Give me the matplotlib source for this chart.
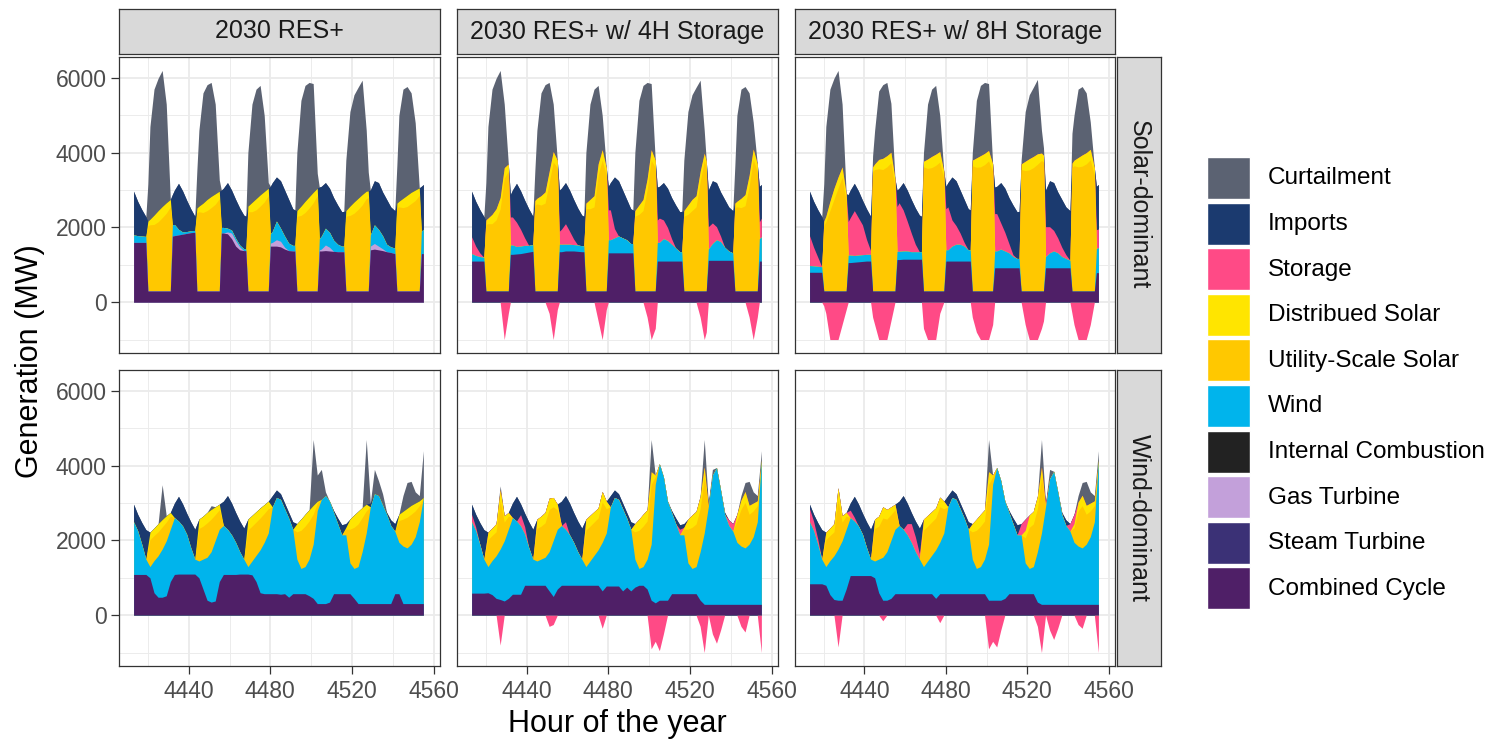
import numpy as np
import matplotlib.pyplot as plt
from matplotlib.patches import Rectangle

plt.rcParams['font.family'] = ['Liberation Sans', 'DejaVu Sans']

scenarios = ["2030 RES+", "2030 RES+ w/ 4H Storage", "2030 RES+ w/ 8H Storage"]
regimes = ["Solar-dominant", "Wind-dominant"]

categories = ["Curtailment", "Imports", "Storage", "Distribued Solar",
              "Utility-Scale Solar", "Wind", "Internal Combustion",
              "Gas Turbine", "Steam Turbine", "Combined Cycle"]
colors = ["#5b6272", "#1b3a6f", "#ff4a86", "#ffe500", "#ffc800",
          "#00b4ec", "#222222", "#c3a0da", "#3b3176", "#4f1f67"]

# ---------------- solar-dominant week (MW) ----------------
# every 2 hours, plus the hour at each sunrise / sunset switch
sd_hours = [4413, 4415, 4417, 4419, 4420, 4421, 4423, 4425, 4427, 4429, 4431,
            4432, 4433, 4435, 4437, 4439, 4441, 4443, 4444, 4445, 4447, 4449, 4451, 4453, 4455,
            4456, 4457, 4459, 4461, 4463, 4465, 4467, 4468, 4469, 4471, 4473, 4475, 4477, 4479,
            4480, 4481, 4483, 4485, 4487, 4489, 4491, 4492, 4493, 4495, 4497, 4499, 4501, 4503,
            4504, 4505, 4507, 4509, 4511, 4513, 4515, 4516, 4517, 4519, 4521, 4523, 4525, 4527,
            4528, 4529, 4531, 4533, 4535, 4537, 4539, 4541, 4542, 4543, 4545, 4547, 4549, 4551, 4553, 4554, 4555]

sd_dist = [0, 0, 0, 0, 120, 150, 250, 300, 300, 280, 200,
           0, 0, 0, 0, 0, 0, 0, 120, 150, 250, 300, 300, 280, 200,
           0, 0, 0, 0, 0, 0, 0, 0, 150, 250, 300, 300, 280, 200,
           0, 0, 0, 0, 0, 0, 0, 0, 150, 250, 300, 300, 280, 200,
           0, 0, 0, 0, 0, 0, 0, 0, 150, 250, 300, 300, 280, 200,
           180, 0, 0, 0, 0, 0, 0, 0, 120, 150, 250, 300, 300, 280, 200, 0, 0]

sd0_cc = [1600, 1600, 1600, 1600, 300, 300, 300, 300, 300, 300, 300,
          1770, 1780, 1800, 1820, 1840, 1860, 1870, 300, 300, 300, 300, 300, 300, 300,
          1850, 1850, 1830, 1700, 1500, 1400, 1380, 1380, 300, 300, 300, 300, 300, 300,
          1500, 1500, 1500, 1480, 1420, 1380, 1370, 1370, 300, 300, 300, 300, 300, 300,
          1370, 1370, 1380, 1370, 1360, 1350, 1350, 1350, 300, 300, 300, 300, 300, 300,
          300, 1400, 1420, 1400, 1380, 1350, 1330, 1300, 300, 300, 300, 300, 300, 300, 300, 1300, 1300]
sd0_gt = [0, 0, 0, 0, 0, 0, 0, 0, 0, 0, 0,
          0, 0, 0, 0, 0, 0, 0, 0, 0, 0, 0, 0, 0, 0,
          0, 0, 50, 150, 150, 80, 0, 0, 0, 0, 0, 0, 0, 0,
          80, 100, 170, 150, 50, 0, 0, 0, 0, 0, 0, 0, 0, 0,
          30, 50, 150, 100, 0, 0, 0, 0, 0, 0, 0, 0, 0, 0,
          0, 100, 150, 100, 50, 0, 0, 0, 0, 0, 0, 0, 0, 0, 0, 0, 0]
sd0_wind = [200, 180, 170, 160, 0, 0, 0, 0, 0, 0, 0,
            300, 300, 150, 60, 50, 50, 50, 0, 0, 0, 0, 0, 0, 0,
            150, 150, 100, 80, 60, 50, 50, 50, 0, 0, 0, 0, 0, 0,
            250, 300, 500, 350, 300, 200, 150, 150, 0, 0, 0, 0, 0, 0,
            300, 350, 450, 400, 300, 200, 150, 150, 0, 0, 0, 0, 0, 0,
            0, 300, 500, 450, 350, 200, 150, 150, 0, 0, 0, 0, 0, 0, 0, 600, 650]
sd0_util = [0, 0, 0, 0, 1750, 1770, 1780, 1850, 1960, 2080, 2250,
            0, 0, 0, 0, 0, 0, 0, 2100, 2120, 2100, 2150, 2230, 2320, 2470,
            0, 0, 0, 0, 0, 0, 0, 0, 2120, 2120, 2170, 2270, 2380, 2550,
            0, 0, 0, 0, 0, 0, 0, 0, 2000, 2020, 2100, 2220, 2360, 2550,
            0, 0, 0, 0, 0, 0, 0, 0, 2000, 2020, 2080, 2180, 2300, 2470,
            2500, 0, 0, 0, 0, 0, 0, 0, 2230, 2250, 2230, 2260, 2340, 2420, 2560, 0, 0]
sd0_imp = [1170, 920, 710, 530, 0, 0, 0, 0, 0, 0, 0,
           810, 920, 1230, 1100, 840, 590, 380, 0, 0, 0, 0, 0, 0, 0,
           1000, 1050, 1220, 1070, 1040, 990, 900, 870, 0, 0, 0, 0, 0, 0,
           1270, 1300, 1180, 1270, 1230, 1170, 980, 950, 0, 0, 0, 0, 0, 0,
           1380, 1330, 1220, 1180, 1140, 1050, 920, 930, 0, 0, 0, 0, 0, 0,
           0, 1200, 1180, 1250, 1170, 1200, 1070, 1000, 0, 0, 0, 0, 0, 0, 0, 1200, 1200]
sd0_curt = [0, 0, 0, 0, 1000, 2480, 3370, 3540, 3640, 2640, 0,
            0, 0, 0, 0, 0, 0, 0, 1000, 2030, 2950, 3070, 3050, 2400, 300,
            0, 0, 0, 0, 0, 0, 0, 0, 1430, 2630, 2930, 2930, 2040, 150,
            0, 0, 0, 0, 0, 0, 0, 0, 1550, 2830, 3100, 3060, 2910, 400,
            0, 0, 0, 0, 0, 0, 0, 0, 1350, 2530, 2870, 2970, 3060, 1630,
            500, 0, 0, 0, 0, 0, 0, 0, 1000, 2300, 2920, 2910, 2660, 1800, 0, 0, 0]

sd4_cc = [1100, 1100, 1100, 1100, 300, 300, 300, 300, 300, 300, 300,
          1280, 1280, 1290, 1300, 1320, 1340, 1360, 300, 300, 300, 300, 300, 300, 300,
          1350, 1350, 1370, 1370, 1370, 1360, 1350, 1350, 300, 300, 300, 300, 300, 300,
          1320, 1320, 1320, 1320, 1320, 1320, 1320, 1320, 300, 300, 300, 300, 300, 300,
          1100, 1100, 1100, 1100, 1100, 1100, 1100, 1100, 300, 300, 300, 300, 300, 300,
          300, 1120, 1120, 1120, 1120, 1120, 1120, 1120, 300, 300, 300, 300, 300, 300, 300, 1100, 1100]
sd4_wind = [200, 150, 120, 100, 0, 0, 0, 0, 0, 0, 0,
            250, 250, 200, 200, 200, 180, 180, 0, 0, 0, 0, 0, 0, 0,
            200, 200, 180, 180, 170, 170, 160, 160, 0, 0, 0, 0, 0, 0,
            350, 350, 400, 450, 400, 350, 250, 250, 0, 0, 0, 0, 0, 0,
            500, 500, 600, 550, 450, 350, 250, 250, 0, 0, 0, 0, 0, 0,
            0, 300, 450, 550, 500, 350, 250, 200, 0, 0, 0, 0, 0, 0, 0, 600, 650]
sd4_util = [0, 0, 0, 0, 1780, 1800, 1800, 1900, 2200, 3020, 3200,
            0, 0, 0, 0, 0, 0, 0, 2300, 2330, 2300, 2350, 2900, 3450, 3300,
            0, 0, 0, 0, 0, 0, 0, 0, 2200, 2200, 2250, 3100, 3500, 3100,
            0, 0, 0, 0, 0, 0, 0, 0, 2000, 2050, 2150, 2700, 3500, 3300,
            0, 0, 0, 0, 0, 0, 0, 0, 2000, 2050, 2150, 2250, 2920, 3490,
            3300, 0, 0, 0, 0, 0, 0, 0, 2230, 2250, 2230, 2280, 2800, 3520, 3200, 0, 0]
sd4_stor = [450, 250, 100, 0, 0, 0, 0, 0, 0, -1000, -300,
            750, 750, 650, 450, 200, 0, 0, 0, 0, 0, 0, -300, -1000, -200,
            350, 400, 550, 350, 150, 0, 0, 0, 0, 0, 0, -500, -1000, -200,
            800, 800, 250, 0, 0, 0, 0, 0, 0, 0, 0, -400, -1000, -700,
            600, 650, 500, 350, 150, 0, 0, 0, 0, 0, 0, 0, -400, -1000,
            -800, 600, 550, 350, 150, 0, 0, 0, 0, 0, 0, 0, -400, -1000, -400, 450, 500]
sd4_imp = [1220, 1200, 1160, 1090, 0, 0, 0, 0, 0, 0, 0,
           600, 720, 1040, 1030, 1010, 980, 760, 0, 0, 0, 0, 0, 0, 0,
           1100, 1100, 1100, 1100, 1060, 990, 820, 790, 0, 0, 0, 0, 0, 0,
           630, 730, 1380, 1480, 1280, 1080, 930, 900, 0, 0, 0, 0, 0, 0,
           880, 850, 1000, 1050, 1100, 1150, 1070, 1080, 0, 0, 0, 0, 0, 0,
           0, 980, 1130, 1180, 1180, 1280, 1180, 1130, 0, 0, 0, 0, 0, 0, 0, 950, 900]
sd4_curt = [0, 0, 0, 0, 1000, 2450, 3350, 3490, 3400, 1700, 0,
            0, 0, 0, 0, 0, 0, 0, 800, 1820, 2750, 2870, 2380, 1270, 0,
            0, 0, 0, 0, 0, 0, 0, 0, 1350, 2550, 2850, 2100, 920, 0,
            0, 0, 0, 0, 0, 0, 0, 0, 1550, 2800, 3050, 2580, 1770, 0,
            0, 0, 0, 0, 0, 0, 0, 0, 1350, 2500, 2800, 2900, 2440, 610,
            0, 0, 0, 0, 0, 0, 0, 0, 1000, 2300, 2920, 2890, 2200, 720, 0, 0, 0]

sd8_cc = [800, 800, 800, 800, 300, 300, 300, 300, 300, 300, 300,
          1060, 1060, 1070, 1080, 1090, 1100, 1100, 300, 300, 300, 300, 300, 300, 300,
          1140, 1140, 1150, 1150, 1150, 1150, 1150, 1150, 300, 300, 300, 300, 300, 300,
          1100, 1100, 1100, 1100, 1100, 1100, 1100, 1100, 300, 300, 300, 300, 300, 300,
          920, 920, 920, 920, 920, 920, 920, 920, 300, 300, 300, 300, 300, 300,
          300, 920, 920, 920, 920, 920, 920, 920, 300, 300, 300, 300, 300, 300, 300, 790, 790]
sd8_wind = [180, 170, 160, 150, 0, 0, 0, 0, 0, 0, 0,
            200, 200, 180, 180, 180, 180, 180, 0, 0, 0, 0, 0, 0, 0,
            220, 220, 220, 220, 200, 200, 200, 200, 0, 0, 0, 0, 0, 0,
            300, 300, 400, 450, 450, 400, 300, 300, 0, 0, 0, 0, 0, 0,
            450, 450, 500, 450, 400, 300, 250, 250, 0, 0, 0, 0, 0, 0,
            0, 300, 400, 450, 400, 300, 250, 200, 0, 0, 0, 0, 0, 0, 0, 650, 670]
sd8_util = [0, 0, 0, 0, 1750, 1850, 2150, 2450, 2750, 3040, 2400,
            0, 0, 0, 0, 0, 0, 0, 3200, 3250, 3270, 3250, 3320, 3430, 2800,
            0, 0, 0, 0, 0, 0, 0, 0, 3320, 3280, 3300, 3360, 3450, 3000,
            0, 0, 0, 0, 0, 0, 0, 0, 3350, 3310, 3320, 3380, 3480, 3200,
            0, 0, 0, 0, 0, 0, 0, 0, 3250, 3220, 3240, 3300, 3390, 3490,
            3450, 0, 0, 0, 0, 0, 0, 0, 3300, 3350, 3320, 3340, 3400, 3510, 3100, 0, 0]
sd8_stor = [800, 500, 250, 0, -100, -300, -1000, -1000, -1000, -600, -200,
            900, 1000, 1200, 1000, 800, 400, 100, -400, -600, -1000, -1000, -1000, -500, 0,
            1200, 1300, 1100, 800, 500, 200, 0, 0, -700, -1000, -1000, -1000, -300, 0,
            1100, 1150, 700, 500, 300, 100, 0, 0, -400, -800, -1000, -1000, -1000, -600,
            1000, 1000, 700, 500, 250, 50, 0, 0, 0, -600, -1000, -1000, -1000, -700,
            -500, 800, 700, 550, 400, 250, 100, 0, -300, -600, -1000, -1000, -1000, -600, 0, 500, 500]
sd8_imp = [1190, 1230, 1270, 1340, 0, 0, 0, 0, 0, 0, 0,
           720, 740, 730, 720, 660, 820, 920, 0, 0, 0, 0, 0, 0, 0,
           440, 390, 730, 830, 900, 970, 980, 950, 0, 0, 0, 0, 0, 0,
           600, 650, 1150, 1200, 1150, 1150, 1100, 1070, 0, 0, 0, 0, 0, 0,
           710, 730, 1080, 1180, 1230, 1330, 1250, 1260, 0, 0, 0, 0, 0, 0,
           0, 980, 1230, 1280, 1230, 1280, 1280, 1330, 0, 0, 0, 0, 0, 0, 0, 1160, 1190]
sd8_curt = [0, 0, 0, 0, 1000, 2400, 3000, 2940, 2850, 1680, 0,
            0, 0, 0, 0, 0, 0, 0, 300, 900, 1830, 1970, 1960, 1310, 0,
            0, 0, 0, 0, 0, 0, 0, 0, 230, 1470, 1800, 1840, 970, 0,
            0, 0, 0, 0, 0, 0, 0, 0, 200, 1540, 1880, 1900, 1790, 0,
            0, 0, 0, 0, 0, 0, 0, 0, 100, 1330, 1710, 1850, 1990, 610,
            200, 0, 0, 0, 0, 0, 0, 0, 800, 1200, 1830, 1830, 1600, 730, 0, 0, 0]

# ---------------- wind-dominant week (MW), every 2 hours ----------------
wd_hours = np.arange(4413, 4557, 2)

wd0_cc = [1090, 1090, 1090, 1090, 1000, 600, 480, 480, 520, 900, 1090, 1100,
          1100, 1100, 1100, 1100, 1000, 700, 400, 350, 380, 900, 1090, 1090,
          1090, 1090, 1100, 1100, 1100, 1080, 900, 600, 575, 575, 575, 575,
          560, 575, 480, 575, 575, 575, 575, 520, 450, 310, 310, 310,
          350, 575, 575, 575, 575, 575, 450, 310, 310, 310, 310, 310,
          310, 310, 310, 310, 575, 575, 310, 310, 310, 310, 310, 310]
wd0_wind = [1410, 1170, 810, 410, 300, 860, 1110, 1290, 1470, 1400, 1520, 1420,
            1290, 1070, 710, 400, 450, 800, 1150, 1350, 1620, 1400, 1310, 1210,
            1060, 860, 600, 400, 200, 370, 700, 1150, 1375, 1625, 2325, 2575,
            2540, 2275, 2120, 1725, 925, 675, 725, 980, 1450, 2490, 2790, 2890,
            2700, 2175, 1875, 1575, 1575, 825, 800, 990, 1390, 1890, 2590, 2940,
            2890, 2640, 2390, 2090, 1675, 1375, 1540, 1490, 1590, 1790, 2190, 2840]
wd0_util = [0, 0, 0, 0, 720, 670, 640, 590, 500, 350, 0, 0,
            0, 0, 0, 0, 870, 880, 920, 870, 690, 520, 0, 0,
            0, 0, 0, 0, 980, 930, 890, 850, 770, 650, 0, 0,
            0, 0, 0, 0, 730, 1020, 1080, 1020, 800, 200, 0, 0,
            0, 0, 0, 0, 150, 900, 1100, 1140, 910, 590, 0, 0,
            0, 0, 0, 0, 0, 580, 720, 820, 800, 690, 430, 0]
wd0_dist = [0, 0, 0, 0, 200, 200, 220, 200, 170, 100, 0, 0,
            0, 0, 0, 0, 250, 270, 280, 260, 210, 150, 0, 0,
            0, 0, 0, 0, 290, 290, 280, 270, 240, 200, 0, 0,
            0, 0, 0, 0, 220, 300, 320, 300, 240, 50, 0, 0,
            0, 0, 0, 0, 50, 270, 330, 340, 270, 180, 0, 0,
            0, 0, 0, 0, 0, 170, 210, 240, 240, 210, 130, 0]
wd0_imp = [470, 440, 580, 790, 0, 0, 0, 0, 0, 0, 390, 660,
           590, 560, 690, 800, 0, 0, 0, 0, 0, 0, 650, 900,
           850, 800, 820, 830, 0, 0, 0, 0, 0, 0, 300, 200,
           150, 150, 150, 200, 0, 0, 0, 0, 0, 0, 0, 0,
           0, 50, 150, 270, 100, 0, 0, 0, 0, 0, 100, 0,
           0, 0, 50, 150, 200, 0, 0, 0, 0, 0, 0, 0]
wd0_curt = [0, 0, 0, 0, 0, 0, 0, 930, 0, 0, 0, 0,
            0, 0, 0, 0, 0, 0, 0, 100, 0, 0, 0, 0,
            0, 0, 0, 0, 0, 0, 0, 0, 0, 0, 0, 0,
            0, 0, 0, 0, 0, 0, 0, 0, 1760, 700, 800, 100,
            0, 0, 0, 0, 0, 0, 0, 0, 0, 1730, 0, 650,
            400, 300, 0, 0, 0, 0, 420, 690, 640, 300, 140, 1250]

wd4_cc = [590, 590, 590, 590, 600, 550, 450, 420, 380, 450, 560, 560,
          560, 800, 800, 800, 800, 800, 800, 650, 500, 700, 800, 800,
          800, 800, 800, 800, 800, 800, 800, 800, 650, 780, 780, 780,
          780, 650, 750, 650, 750, 800, 800, 700, 400, 330, 400, 400,
          400, 575, 575, 575, 575, 575, 575, 575, 400, 290, 290, 290,
          290, 290, 290, 290, 290, 290, 290, 290, 290, 290, 290, 290]
wd4_wind = [1910, 1670, 1310, 910, 700, 910, 1140, 1350, 1610, 1850, 2050, 1960,
            1830, 1370, 1010, 700, 650, 700, 750, 1050, 1500, 1600, 1600, 1500,
            1350, 1150, 900, 700, 500, 650, 800, 950, 1300, 1420, 2120, 2370,
            2320, 2200, 1850, 1650, 750, 450, 500, 800, 1500, 3170, 3650, 3300,
            2650, 2175, 1875, 1575, 1575, 825, 675, 725, 1300, 1910, 2610, 3460,
            3660, 3060, 2410, 2110, 1960, 1660, 1560, 1510, 1610, 1810, 2210, 3860]
wd4_util = [0, 0, 0, 0, 720, 670, 640, 1290, 500, 350, 0, 0,
            0, 0, 0, 0, 870, 880, 920, 1130, 900, 520, 0, 0,
            0, 0, 0, 0, 980, 930, 890, 850, 1080, 650, 0, 0,
            0, 0, 0, 0, 730, 1020, 1080, 1020, 1600, 200, 0, 0,
            0, 0, 0, 0, 150, 900, 1100, 1140, 1150, 1500, 0, 0,
            0, 0, 0, 0, 0, 580, 980, 1220, 800, 690, 430, 0]
wd4_dist = [0, 0, 0, 0, 200, 200, 220, 300, 170, 100, 0, 0,
            0, 0, 0, 0, 250, 270, 280, 300, 250, 150, 0, 0,
            0, 0, 0, 0, 290, 290, 280, 270, 280, 200, 0, 0,
            0, 0, 0, 0, 220, 300, 320, 300, 340, 50, 0, 0,
            0, 0, 0, 0, 50, 270, 330, 340, 330, 270, 0, 0,
            0, 0, 0, 0, 0, 170, 250, 290, 240, 210, 130, 0]
wd4_stor = [200, 100, 0, 0, 0, 0, 0, -800, 0, 0, 0, 0,
            300, 200, 0, 0, 0, 0, 0, -300, -250, 0, 0, 200,
            0, 0, 0, 0, 0, 0, 0, 0, -350, 0, 0, 0,
            0, 0, 0, 0, 0, 0, 0, 0, -900, -700, -950, -500,
            0, 0, 0, 150, 0, 0, 0, 0, -300, -1000, 0, -500,
            -750, -400, 0, 150, 200, 0, -300, -450, 0, 0, 0, -1000]
wd4_imp = [270, 340, 580, 790, 0, 0, 0, 0, 0, 0, 390, 660,
           290, 360, 690, 800, 0, 0, 0, 0, 0, 0, 650, 700,
           850, 800, 820, 830, 0, 0, 0, 0, 0, 0, 300, 200,
           150, 150, 150, 200, 0, 0, 0, 0, 0, 0, 0, 0,
           0, 50, 150, 120, 100, 0, 0, 0, 0, 0, 100, 0,
           0, 0, 50, 0, 0, 0, 0, 0, 0, 0, 0, 0]
wd4_curt = [0, 0, 0, 0, 0, 0, 0, 100, 0, 0, 0, 0,
            0, 0, 0, 0, 0, 0, 0, 0, 0, 0, 0, 0,
            0, 0, 0, 0, 0, 0, 0, 0, 0, 0, 0, 0,
            0, 0, 0, 0, 0, 0, 0, 0, 860, 0, 0, 0,
            0, 0, 0, 0, 0, 0, 0, 0, 0, 730, 0, 150,
            0, 0, 0, 0, 0, 0, 120, 240, 640, 300, 140, 250]

wd8_cc = [840, 840, 840, 840, 800, 550, 420, 400, 400, 700, 1060, 1060,
          1060, 1060, 1060, 1060, 1000, 600, 400, 400, 450, 575, 575, 575,
          575, 575, 575, 575, 575, 575, 575, 450, 575, 575, 575, 575,
          575, 575, 575, 575, 575, 575, 575, 575, 400, 400, 400, 400,
          450, 575, 575, 575, 575, 575, 575, 575, 350, 290, 290, 290,
          290, 290, 290, 290, 290, 290, 290, 290, 290, 290, 290, 290]
wd8_wind = [1660, 1420, 1060, 660, 500, 910, 1170, 1370, 1590, 1600, 1550, 1460,
            1330, 1110, 750, 440, 450, 900, 1150, 1300, 1550, 1725, 1825, 1725,
            1575, 1375, 1125, 925, 725, 875, 1025, 1300, 1375, 1625, 2325, 2575,
            2525, 2275, 2025, 1725, 925, 675, 725, 925, 1500, 3100, 3550, 3200,
            2600, 2175, 1875, 1575, 1575, 825, 675, 725, 1350, 1910, 2610, 3360,
            3560, 3010, 2410, 2110, 1960, 1660, 1560, 1510, 1610, 1810, 2210, 3860]
wd8_util = [0, 0, 0, 0, 720, 670, 640, 1320, 500, 350, 0, 0,
            0, 0, 0, 0, 870, 880, 1050, 870, 690, 520, 0, 0,
            0, 0, 0, 0, 980, 930, 890, 850, 950, 650, 0, 0,
            0, 0, 0, 0, 730, 1020, 1080, 1020, 1600, 200, 0, 0,
            0, 0, 0, 0, 0, 670, 1100, 1140, 1150, 1500, 0, 0,
            0, 0, 0, 0, 0, 390, 940, 1130, 800, 690, 430, 0]
wd8_dist = [0, 0, 0, 0, 200, 200, 220, 320, 170, 100, 0, 0,
            0, 0, 0, 0, 250, 270, 300, 260, 210, 150, 0, 0,
            0, 0, 0, 0, 290, 290, 280, 270, 260, 200, 0, 0,
            0, 0, 0, 0, 220, 300, 320, 300, 340, 50, 0, 0,
            0, 0, 0, 0, 0, 200, 330, 340, 330, 270, 0, 0,
            0, 0, 0, 0, 0, 110, 240, 280, 240, 210, 130, 0]
wd8_stor = [350, 250, 150, 0, 0, 0, 0, -850, 0, 0, 200, 100,
            0, 0, 0, 0, 0, 0, -150, 0, 0, 0, 0, 0,
            300, 500, 400, 150, 0, 0, 0, 0, -200, 0, 0, 0,
            0, 0, 0, 0, 0, 0, 0, 0, -900, -700, -850, -400,
            0, 0, 0, 0, 300, 300, 0, 0, -300, -1000, 100, -400,
            -650, -350, 0, 0, 200, 250, -250, -350, 0, 0, 0, -1000]
wd8_imp = [120, 190, 430, 790, 0, 0, 0, 0, 0, 0, 190, 560,
           590, 560, 690, 800, 0, 0, 0, 0, 0, 0, 650, 900,
           550, 300, 420, 680, 0, 0, 0, 0, 0, 0, 300, 200,
           150, 150, 150, 200, 0, 0, 0, 0, 0, 0, 0, 0,
           0, 50, 150, 270, 0, 0, 0, 0, 0, 0, 0, 0,
           0, 0, 50, 150, 0, 0, 0, 0, 0, 0, 0, 0]
wd8_curt = [0, 0, 0, 0, 0, 0, 0, 0, 0, 0, 0, 0,
            0, 0, 0, 0, 0, 0, 0, 0, 0, 0, 0, 0,
            0, 0, 0, 0, 0, 0, 0, 0, 0, 0, 0, 0,
            0, 0, 0, 0, 0, 0, 0, 0, 860, 0, 0, 0,
            0, 0, 0, 0, 0, 0, 0, 0, 0, 730, 0, 250,
            0, 0, 0, 0, 0, 0, 170, 340, 640, 300, 140, 250]

panels = {
    (0, 0): (sd_hours, {"Combined Cycle": sd0_cc, "Gas Turbine": sd0_gt, "Wind": sd0_wind,
                        "Utility-Scale Solar": sd0_util, "Distribued Solar": sd_dist,
                        "Imports": sd0_imp, "Curtailment": sd0_curt}),
    (0, 1): (sd_hours, {"Combined Cycle": sd4_cc, "Wind": sd4_wind,
                        "Utility-Scale Solar": sd4_util, "Distribued Solar": sd_dist,
                        "Storage": sd4_stor, "Imports": sd4_imp, "Curtailment": sd4_curt}),
    (0, 2): (sd_hours, {"Combined Cycle": sd8_cc, "Wind": sd8_wind,
                        "Utility-Scale Solar": sd8_util, "Distribued Solar": sd_dist,
                        "Storage": sd8_stor, "Imports": sd8_imp, "Curtailment": sd8_curt}),
    (1, 0): (wd_hours, {"Combined Cycle": wd0_cc, "Wind": wd0_wind,
                        "Utility-Scale Solar": wd0_util, "Distribued Solar": wd0_dist,
                        "Imports": wd0_imp, "Curtailment": wd0_curt}),
    (1, 1): (wd_hours, {"Combined Cycle": wd4_cc, "Wind": wd4_wind,
                        "Utility-Scale Solar": wd4_util, "Distribued Solar": wd4_dist,
                        "Storage": wd4_stor, "Imports": wd4_imp, "Curtailment": wd4_curt}),
    (1, 2): (wd_hours, {"Combined Cycle": wd8_cc, "Wind": wd8_wind,
                        "Utility-Scale Solar": wd8_util, "Distribued Solar": wd8_dist,
                        "Storage": wd8_stor, "Imports": wd8_imp, "Curtailment": wd8_curt}),
}

for key, (x, series) in panels.items():
    for name, vals in series.items():
        if len(vals) != len(x):
            raise ValueError(f"{key} {name}: {len(vals)} values for {len(x)} hours")

color_of = dict(zip(categories, colors))


def draw_stack(ax, x, series):
    # positive parts stacked upward in legend order (last category at bottom)
    level = np.zeros(len(x))
    tops = []
    for name in categories[::-1]:
        if name not in series:
            continue
        level = level + np.clip(np.asarray(series[name], float), 0, None)
        tops.append((name, level))
    # paint from the top layer down so neighbouring areas share no seam
    for name, top in tops[::-1]:
        ax.fill_between(x, 0, top, color=color_of[name], lw=0)
    if "Storage" in series:
        neg = np.clip(np.asarray(series["Storage"], float), None, 0)
        ax.fill_between(x, neg, 0, color=color_of["Storage"], lw=0)


W, H = 1499, 741
fig = plt.figure(figsize=(W / 100, H / 100), dpi=100)


def px_box(x0, y0, x1, y1):
    return [x0 / W, 1 - y1 / H, (x1 - x0) / W, (y1 - y0) / H]


col_edges = [(119, 440), (457, 778), (795, 1115)]
row_edges = [(57, 353), (370, 666)]
border = "#333333"

for r, (y0, y1) in enumerate(row_edges):
    for c, (x0, x1) in enumerate(col_edges):
        ax = fig.add_axes(px_box(x0, y0, x1, y1))
        x, series = panels[(r, c)]
        draw_stack(ax, x, series)
        ax.set_xlim(4405.85, 4563.15)
        ax.set_ylim(-1360, 6560)
        ax.set_xticks([4440, 4480, 4520, 4560])
        ax.set_xticks([4420, 4460, 4500, 4540], minor=True)
        ax.set_yticks([0, 2000, 4000, 6000])
        ax.set_yticks([-1000, 1000, 3000, 5000], minor=True)
        ax.set_axisbelow(True)
        ax.grid(which="major", color="#ebebeb", lw=1.3)
        ax.grid(which="minor", color="#ebebeb", lw=0.65)
        for s in ax.spines.values():
            s.set_color(border)
            s.set_linewidth(0.9)
        ax.tick_params(which="minor", length=0)
        ax.tick_params(which="major", length=5.5, width=0.9, color=border,
                       labelsize=16.5, labelcolor="#4d4d4d")
        ax.tick_params(axis="x", pad=4.5)
        ax.tick_params(axis="y", pad=3.5)
        if c != 0:
            ax.tick_params(axis="y", length=0, labelleft=False)
        if r != 1:
            ax.tick_params(axis="x", length=0, labelbottom=False)


def strip(box, label, rotation=0):
    sax = fig.add_axes(box)
    sax.set_facecolor("#d9d9d9")
    sax.set_xticks([])
    sax.set_yticks([])
    for s in sax.spines.values():
        s.set_color(border)
        s.set_linewidth(0.9)
    sax.text(0.5, 0.5, label, ha="center", va="center", rotation=rotation,
             fontsize=18, color="#1a1a1a", transform=sax.transAxes)


for c, (x0, x1) in enumerate(col_edges):
    strip(px_box(x0, 9, x1, 54), scenarios[c])
for r, (y0, y1) in enumerate(row_edges):
    strip(px_box(1117, y0, 1161, y1), regimes[r], rotation=-90)

fig.text(30 / W, 1 - 361.5 / H, "Generation (MW)", rotation=90,
         ha="center", va="center", fontsize=22)
fig.text(617 / W, 1 - 724 / H, "Hour of the year",
         ha="center", va="center", fontsize=22)

# legend keys, one square per category
lax = fig.add_axes(px_box(1200, 150, 1499, 620))
lax.set_xlim(1200, 1499)
lax.set_ylim(620, 150)
lax.axis("off")
for k, (name, col) in enumerate(zip(categories, colors)):
    top = 157 + 45.6 * k
    lax.add_patch(Rectangle((1207, top), 43, 42, facecolor=col,
                            edgecolor="white", lw=1))
    lax.text(1268, top + 21.5, name, ha="left", va="center", fontsize=17.5)

fig.savefig("out.png", dpi=100)
